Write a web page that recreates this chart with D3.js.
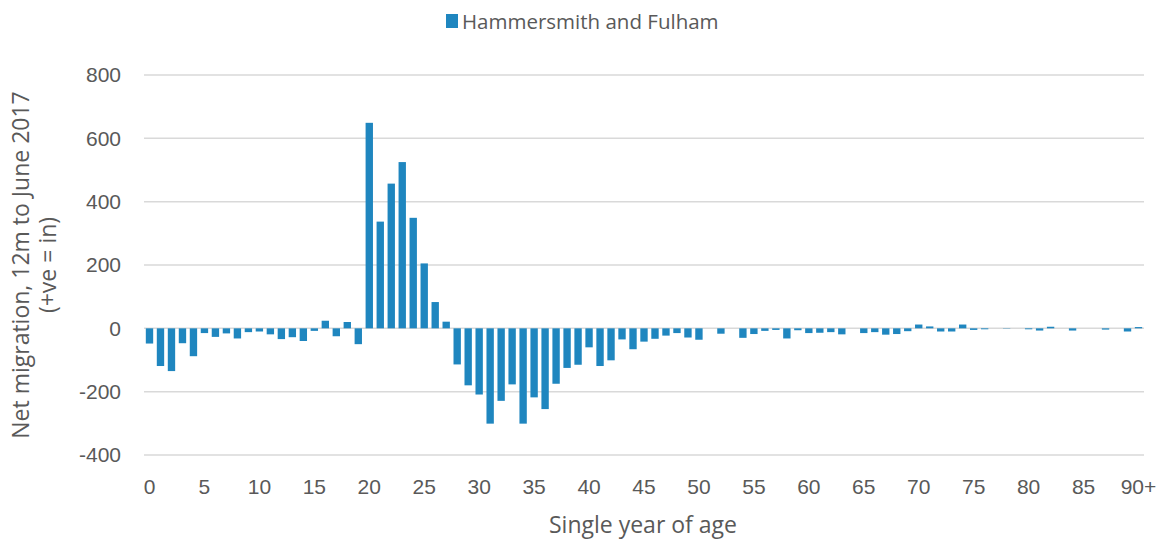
<!DOCTYPE html>
<html><head><meta charset="utf-8">
<script src="https://cdn.jsdelivr.net/npm/d3@7"></script>
<style>body{margin:0;background:#fff;} text{font-family:"Open Sans","Noto Sans",sans-serif;fill:#595959;}</style>
</head><body><svg id="c" width="1162" height="540"></svg>
<script>
const ages = d3.range(0, 91).map(a => a === 90 ? "90+" : String(a));
const values = [
 -48,-119,-135,-47,-88,-15,-27,-16,-32,-12,
 -10,-19,-34,-28,-40,-8,24,-25,20,-50,
 649,337,457,525,349,205,83,21,-114,-180,
 -209,-301,-229,-177,-301,-218,-255,-175,-125,-115,
 -60,-119,-101,-35,-66,-42,-33,-23,-15,-29,
 -36,0,-17,0,-30,-18,-8,-5,-32,-6,
 -15,-14,-12,-19,0,-15,-12,-20,-18,-9,
 12,6,-10,-10,12,-5,-3,0,-1,0,
 -3,-7,5,0,-7,0,0,-4,0,-10,4
];
const yTicks = [-400,-200,0,200,400,600,800];
const xTickLabels = ["0","5","10","15","20","25","30","35","40","45","50","55","60","65","70","75","80","85","90+"];
const seriesName = "Hammersmith and Fulham";
const color = "#1f86bf";

const svg = d3.select("#c");
const L = 144, R = 1144, T = 75, B = 455;
const x = d3.scaleBand().domain(ages).range([L, R]).paddingInner(0.33).paddingOuter(0.165);
const y = d3.scaleLinear().domain([-400, 800]).range([B, T]);

svg.append("g").selectAll("line").data(yTicks).join("line")
  .attr("x1", L).attr("x2", R).attr("y1", d => y(d)).attr("y2", d => y(d))
  .attr("stroke", "#d9d9d9").attr("stroke-width", 1.5);

svg.append("g").selectAll("rect").data(values).join("rect")
  .attr("x", (d, i) => x(ages[i]))
  .attr("width", x.bandwidth())
  .attr("y", d => y(Math.max(0, d)))
  .attr("height", d => Math.abs(y(d) - y(0)))
  .attr("fill", color);

const yAxis = d3.axisLeft(y).tickValues(yTicks).tickFormat(d => String(d)).tickSize(0).tickPadding(0);
const gy = svg.append("g").attr("transform", `translate(121,0)`).call(yAxis);
gy.select(".domain").remove();
gy.selectAll("text").style("font-size", "21px").attr("fill", "#595959").style("font-family", "inherit");

const xAxis = d3.axisBottom(x).tickValues(xTickLabels).tickSize(0).tickPadding(0);
const gx = svg.append("g").attr("transform", `translate(0,487)`).call(xAxis);
gx.select(".domain").remove();
gx.selectAll("text").style("font-size", "21px").attr("fill", "#595959").style("font-family", "inherit").attr("dy", "0.35em");

svg.append("text").attr("x", 643).attr("y", 533).attr("text-anchor", "middle")
  .style("font-size", "23px").text("Single year of age");

const yt = svg.append("text").attr("transform", "translate(0,265) rotate(-90)").attr("text-anchor", "middle").style("font-size", "23px");
yt.append("tspan").attr("x", 0).attr("y", 29).text("Net migration, 12m to June 2017");
yt.append("tspan").attr("x", 0).attr("y", 56).text("(+ve = in)");

const lg = svg.append("g");
lg.append("rect").attr("x", 446).attr("y", 14).attr("width", 12).attr("height", 14).attr("fill", color);
lg.append("text").attr("x", 462).attr("y", 22).attr("dy", "0.35em").style("font-size", "20.5px").text(seriesName);
</script></body></html>
